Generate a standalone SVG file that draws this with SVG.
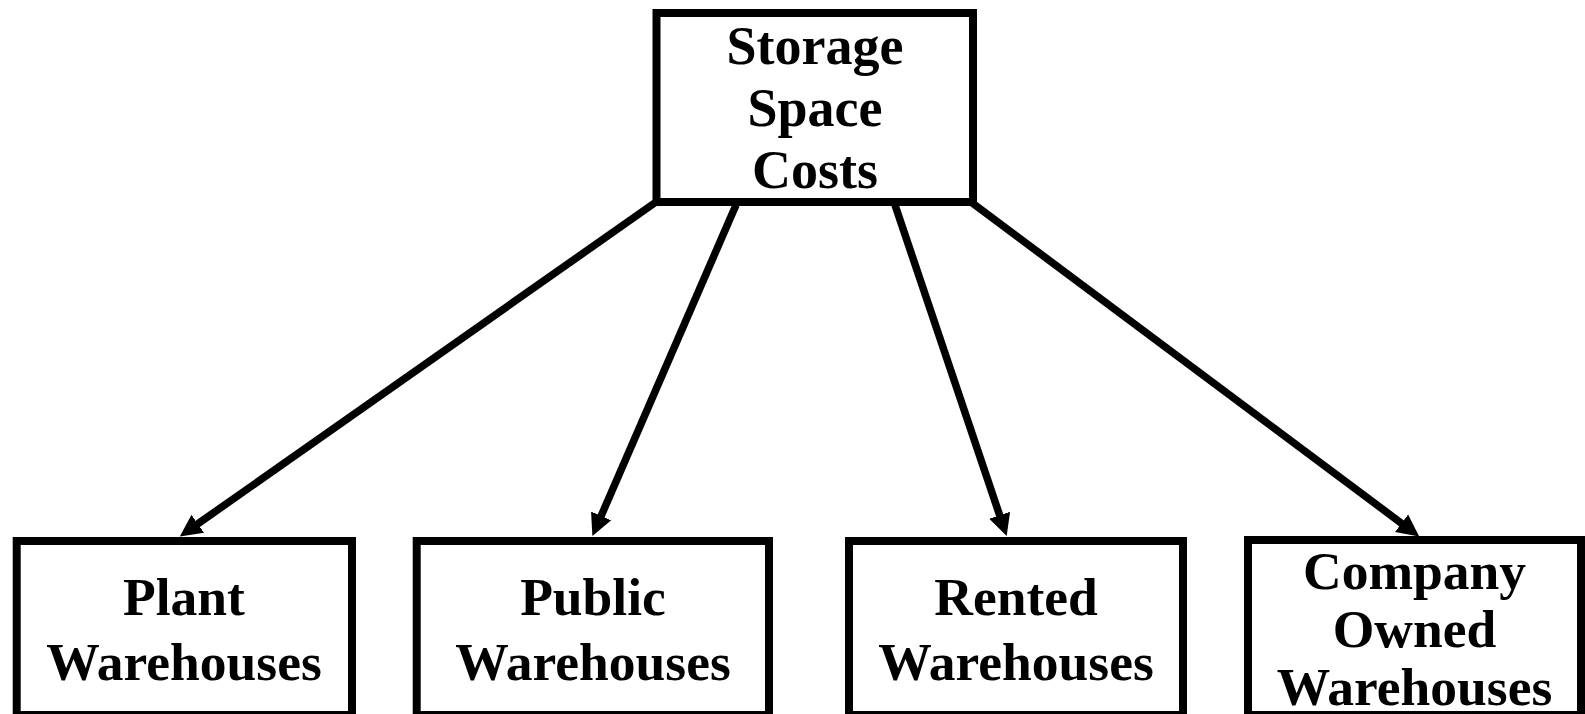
<svg xmlns="http://www.w3.org/2000/svg" width="1585" height="714" viewBox="0 0 1585 714">
<style>
.box{fill:#fff;stroke:#000;stroke-width:8}
.lbl{font-family:"Liberation Serif","Times New Roman",serif;font-weight:bold;fill:#000;text-anchor:middle}
.top{font-size:54px}
.bot{font-size:53.5px}
.conn{stroke:#000;stroke-width:7.5;fill:none;marker-end:url(#ah)}
</style>
<defs>
<marker id="ah" markerUnits="userSpaceOnUse" viewBox="0 -12 24 24" markerWidth="24" markerHeight="24" refX="1" refY="0" orient="auto">
<path d="M0,-11 L22,0 L0,11 z" fill="#000"/>
</marker>
</defs>
<rect width="1585" height="714" fill="#fff"/>
<g id="connectors">
<line class="conn" x1="656" y1="202" x2="197" y2="524.4"/>
<line class="conn" x1="736" y1="205" x2="600.75" y2="516.8"/>
<line class="conn" x1="895" y1="205" x2="999.97" y2="516.2"/>
<line class="conn" x1="971" y1="202" x2="1402.35" y2="523.9"/>
</g>
<g id="storage">
<rect class="box" x="656.5" y="13" width="316.5" height="189"/>
<text class="lbl top" x="815" y="64">Storage</text>
<text class="lbl top" x="815" y="126">Space</text>
<text class="lbl top" x="815" y="188">Costs</text>
</g>
<g id="plant">
<rect class="box" x="16.7" y="541" width="335.3" height="174"/>
<text class="lbl bot" x="184" y="615">Plant</text>
<text class="lbl bot" x="184" y="680">Warehouses</text>
</g>
<g id="public">
<rect class="box" x="416.7" y="541" width="352.3" height="174"/>
<text class="lbl bot" x="593" y="615">Public</text>
<text class="lbl bot" x="593" y="680">Warehouses</text>
</g>
<g id="rented">
<rect class="box" x="849" y="541" width="334" height="174"/>
<text class="lbl bot" x="1016" y="615">Rented</text>
<text class="lbl bot" x="1016" y="680">Warehouses</text>
</g>
<g id="company">
<rect class="box" x="1248" y="540" width="333" height="175"/>
<text class="lbl bot" x="1414.5" y="589">Company</text>
<text class="lbl bot" x="1414.5" y="647">Owned</text>
<text class="lbl bot" x="1414.5" y="705">Warehouses</text>
</g>
</svg>
